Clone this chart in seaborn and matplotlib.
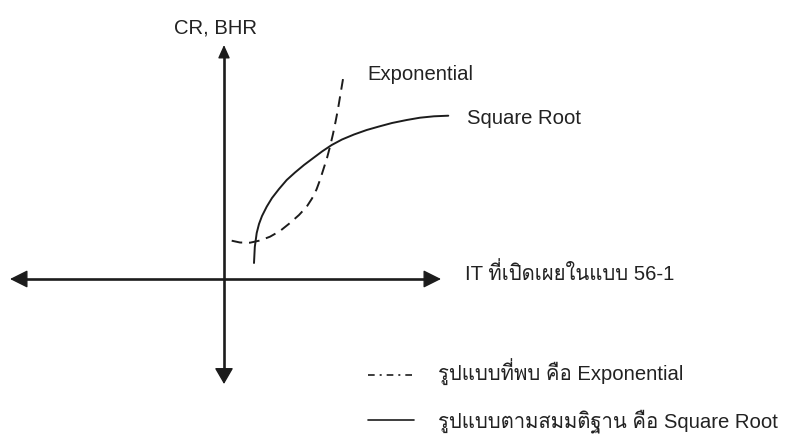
import numpy as np
import pandas as pd
import matplotlib
matplotlib.use('Agg')
import matplotlib.pyplot as plt
import seaborn as sns

# 개념도 좌표 (원점 = 두 축이 만나는 점)
sqrt_x = [30, 30.8, 32.7, 35, 38, 42.7, 48, 55, 62.7, 71, 80, 89.3, 98, 107.7, 118, 130, 142.7, 155, 168, 182.7, 196, 210, 224.3]
sqrt_y = [16, 32, 46, 55, 63, 72.3, 81, 90, 99, 106.5, 114, 121, 127.5, 134, 139.5, 144.5, 149, 152.5, 156, 159, 161.3, 162.7, 163.3]

exp_x = [7.7, 16, 26, 36, 46, 56, 66, 75, 82.7, 88, 92.5, 96, 99.5, 103, 106, 109, 111.5, 114, 116.5, 119.3]
exp_y = [38.3, 36.5, 36.3, 38.5, 42.3, 48, 56, 64, 72.3, 80.5, 89.5, 99, 110, 121, 132.3, 145, 157, 170, 185, 201.7]

y_label = 'CR, BHR'
x_label = 'IT ที่เปิดเผยในแบบ 56-1'
exp_name = 'Exponential'
sqrt_name = 'Square Root'
legend_labels = ['รูปแบบที่พบ คือ Exponential', 'รูปแบบตามสมมติฐาน คือ Square Root']

sns.set_theme(style='white')
plt.rcParams['font.family'] = ['Liberation Sans', 'Loma', 'Noto Sans Thai Looped', 'DejaVu Sans']
ink = '#1c1c1c'

fig = plt.figure(figsize=(7.86, 4.47), dpi=100)
ax = fig.add_axes([0, 0, 1, 1])
ax.set_xlim(-224, 562)
ax.set_ylim(-168, 279)
ax.axis('off')

# 축 (양방향 화살표)
ax.plot([-208, 212], [0, 0], color=ink, lw=1.9, solid_capstyle='butt')
ax.plot([0, 0], [-98, 228], color=ink, lw=1.9, solid_capstyle='butt')
heads = [((-214, 0), (-200, 0), 1.1, 0.55),
         ((217, 0), (203, 0), 1.1, 0.55),
         ((0, 234), (0, 222), 0.8, 0.36),
         ((0, -105), (0, -91), 1.0, 0.58)]
for tip, tail, hl, hw in heads:
    ax.annotate('', xy=tip, xytext=tail,
                arrowprops=dict(arrowstyle='-|>,head_length=%.2f,head_width=%.2f' % (hl, hw),
                                color=ink, lw=1.0, shrinkA=0, shrinkB=0, mutation_scale=10))

# 곡선
df_sqrt = pd.DataFrame({'x': sqrt_x, 'y': sqrt_y})
df_exp = pd.DataFrame({'x': exp_x, 'y': exp_y})
sns.lineplot(data=df_sqrt, x='x', y='y', sort=False, estimator=None, ax=ax,
             color=ink, lw=1.4)
sns.lineplot(data=df_exp, x='x', y='y', sort=False, estimator=None, ax=ax,
             color=ink, lw=1.4, linestyle=(0, (5.5, 3.5)))

fs = 14.6
tc = '#222222'
ax.text(-8, 245, y_label, ha='center', va='baseline', fontsize=fs, color=tc)
ax.text(143, 199, exp_name, ha='left', va='baseline', fontsize=fs, color=tc)
ax.text(243, 155, sqrt_name, ha='left', va='baseline', fontsize=fs, color=tc)
ax.text(241, -1, x_label, ha='left', va='baseline', fontsize=fs, color=tc)

# 범례
ax.plot([144, 193], [-96, -96], color=ink, lw=1.2, linestyle=(0, (4, 3, 1.2, 3)))
ax.plot([144, 190], [-141, -141], color=ink, lw=1.2)
ax.text(214, -102, legend_labels[0], ha='left', va='baseline', fontsize=fs, color=tc)
ax.text(214, -148, legend_labels[1], ha='left', va='baseline', fontsize=fs, color=tc)

plt.savefig('out.png', dpi=100)
